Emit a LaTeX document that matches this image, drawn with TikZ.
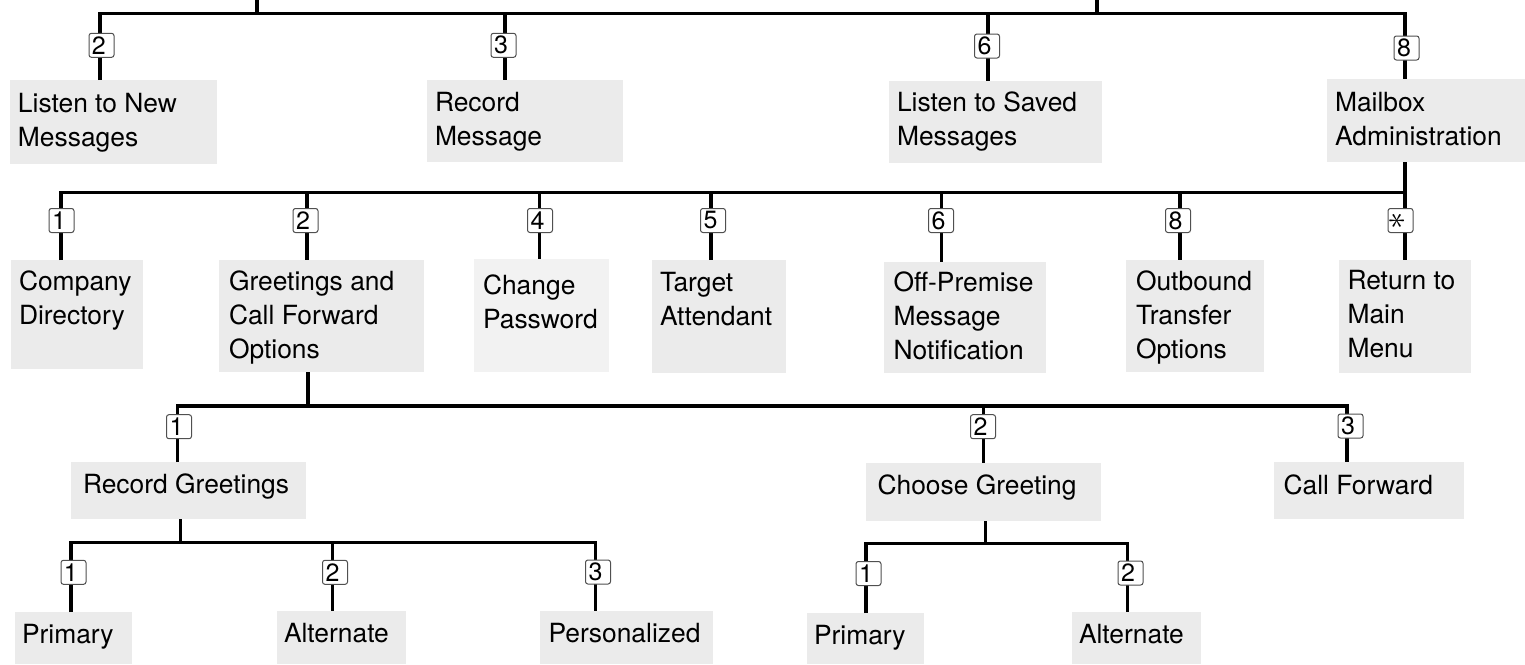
\documentclass[tikz,border=0pt]{standalone}
\usepackage{graphicx}
\usepackage{fontspec}
\setmainfont{TeX Gyre Heros}
\definecolor{boxgray}{HTML}{EBEBEB}
\definecolor{boxlight}{HTML}{F2F2F2}
\definecolor{keyedge}{HTML}{505050}
\newcommand\mbx[9][boxgray]{%
  \node[menubox, fill=#1, minimum width={(#4-#2)*0.5pt}, minimum height={(#5-#3)*0.5pt}] (#6) at (#2,#3) {};
  \node[menutext] (#6-t) at ([shift={(#7,#8-22)}]#6.north west) {\rule{0pt}{11pt}#9};
}
\newcommand\keyat[4]{\node[keybox] (#1) at (#2,#3) {\makebox[12.5pt][l]{\hspace{1.5pt}#4}};}
\begin{document}
\begin{tikzpicture}[x=0.5pt,y=-0.5pt,
  menubox/.style={draw=none, inner sep=0pt, outer sep=0pt, anchor=north west},
  menutext/.style={anchor=north west, inner sep=0pt, outer sep=0pt, align=left, font=\fontsize{13.2pt}{17pt}\selectfont},
  keybox/.style={draw=keyedge, line width=0.5pt, fill=white, rounded corners=1.2pt, minimum width=12.5pt, minimum height=12pt, inner sep=0pt, outer sep=0pt, font=\fontsize{12.5pt}{12.5pt}\selectfont},
  wire/.style={line width=1.55pt, line join=miter}]
\useasboundingbox (0,0) rectangle (1525,664);
% level 1 boxes
\mbx{10}{80}{217}{164}{ln}{8}{32}{Listen to New\\Messages}
\mbx{427}{80}{623}{162}{rm}{8}{31}{Record\\Message}
\mbx{889}{81}{1102}{163}{ls}{8}{30.5}{Listen to Saved\\Messages}
\mbx{1327}{79}{1525}{162}{ma}{8}{32}{Mailbox\\Administration}
% level 2 boxes
\mbx{11}{260}{143}{369}{cd}{8}{30.7}{Company\\Directory}
\mbx{219}{260}{424}{372}{gc}{10}{30.7}{Greetings and\\Call Forward\\Options}
\mbx[boxlight]{474}{259}{609}{372}{cp}{9}{35.5}{Change\\Password}
\mbx{652}{260}{786}{373}{ta}{8}{31.5}{Target\\Attendant}
\mbx{884}{262}{1046}{373}{op}{9.5}{29.5}{Off-Premise\\Message\\Notification}
\mbx{1126}{260}{1264}{372}{ot}{10}{30.7}{Outbound\\Transfer\\Options}
\mbx{1339}{260}{1471}{373}{rt}{8.5}{29.5}{Return to\\Main\\Menu}
% level 3 boxes
\mbx{71}{462}{306}{519}{rg}{12}{31.3}{Record Greetings}
\mbx{866}{463}{1101}{521}{cg}{11.5}{31.7}{Choose Greeting}
\mbx{1274}{462}{1464}{519}{cf}{9.5}{32.5}{Call Forward}
% level 4 boxes
\mbx{15}{612}{132}{664}{p1}{7}{31.3}{Primary}
\mbx{277}{611}{406}{664}{a1}{7}{31.5}{Alternate}
\mbx{540}{611}{713}{664}{pz}{8.5}{31.5}{Personalized}
\mbx{807}{613}{924}{664}{p2}{7}{31.5}{Primary}
\mbx{1072}{612}{1201}{664}{a2}{7}{31.5}{Alternate}
% level 1 wiring
\coordinate (top1) at (257,0);
\coordinate (top2) at (1097,0);
\coordinate (j-ln) at (100,13.3);
\coordinate (j-rm) at (505,13.3);
\coordinate (j-ls) at (988,13.3);
\coordinate (j-ma) at (1405,13.3);
\draw[wire] (j-ln |- ln.north) -- (j-ln) -- (j-ma) -- (j-ma |- ma.north);
\draw[wire] (j-rm) -- (j-rm |- rm.north);
\draw[wire] (j-ls) -- (j-ls |- ls.north);
\draw[wire] (top1) -- (top1 |- j-ln);
\draw[wire] (top2) -- (top2 |- j-ln);
% level 2 wiring
\coordinate (j-cd) at (61,192.3);
\coordinate (j-gc) at (307,192.3);
\coordinate (j-cp) at (539.3,192.3);
\coordinate (j-ta) at (711,192.3);
\coordinate (j-op) at (941.3,192.3);
\coordinate (j-ot) at (1180,192.3);
\coordinate (j-rt) at (1405,192.3);
\draw[wire] (j-cd |- cd.north) -- (j-cd) -- (j-rt);
\draw[wire] (j-rt |- ma.south) -- (j-rt |- rt.north);
\draw[wire] (j-gc) -- (j-gc |- gc.north);
\draw[wire] (j-cp) -- (j-cp |- cp.north);
\draw[wire] (j-ta) -- (j-ta |- ta.north);
\draw[wire] (j-op) -- (j-op |- op.north);
\draw[wire] (j-ot) -- (j-ot |- ot.north);
% level 3 wiring
\coordinate (d-gc) at (308,406);
\coordinate (j-rg) at (177.7,406);
\coordinate (j-cg) at (983.5,406);
\coordinate (j-cf) at (1347,406);
\draw[wire] (d-gc |- gc.south) -- (d-gc);
\draw[wire] (j-rg |- rg.north) -- (j-rg) -- (j-cf) -- (j-cf |- cf.north);
\draw[wire] (j-cg) -- (j-cg |- cg.north);
% level 4 wiring
\coordinate (d-rg) at (180.3,542.3);
\coordinate (j-p1) at (71,542.3);
\coordinate (j-a1) at (332.3,542.3);
\coordinate (j-pz) at (595.7,542.3);
\draw[wire] (d-rg |- rg.south) -- (d-rg);
\draw[wire] (j-p1 |- p1.north) -- (j-p1) -- (j-pz) -- (j-pz |- pz.north);
\draw[wire] (j-a1) -- (j-a1 |- a1.north);
\coordinate (d-cg) at (985.3,543.3);
\coordinate (j-p2) at (866,543.3);
\coordinate (j-a2) at (1127.7,543.3);
\draw[wire] (d-cg |- cg.south) -- (d-cg);
\draw[wire] (j-p2 |- p2.north) -- (j-p2) -- (j-a2) -- (j-a2 |- a2.north);
% keys
\keyat{k-ln}{101.5}{45.3}{2}
\keyat{k-rm}{503.5}{45.3}{3}
\keyat{k-ls}{987}{46}{6}
\keyat{k-ma}{1406.5}{48}{8}
\keyat{k-cd}{61.5}{220.5}{1}
\keyat{k-gc}{305.5}{220.5}{2}
\keyat{k-cp}{540}{220.5}{4}
\keyat{k-ta}{713}{220.5}{5}
\keyat{k-op}{941}{220.5}{6}
\keyat{k-ot}{1178}{220.5}{8}
\node[keybox] (k-rt) at (1400.5,220.5) {\makebox[12.5pt][l]{\hspace{0.6pt}\raisebox{-3.2pt}{\rotatebox{90}{\fontsize{19pt}{19pt}\selectfont$\ast$}}}};
\keyat{k-rg}{179}{426.7}{1}
\keyat{k-cg}{983}{426.7}{2}
\keyat{k-cf}{1350.5}{426}{3}
\keyat{k-p1}{73.5}{572.3}{1}
\keyat{k-a1}{335}{572.3}{2}
\keyat{k-pz}{598}{572}{3}
\keyat{k-p2}{868.5}{573.5}{1}
\keyat{k-a2}{1130.5}{573}{2}
\end{tikzpicture}
\end{document}
